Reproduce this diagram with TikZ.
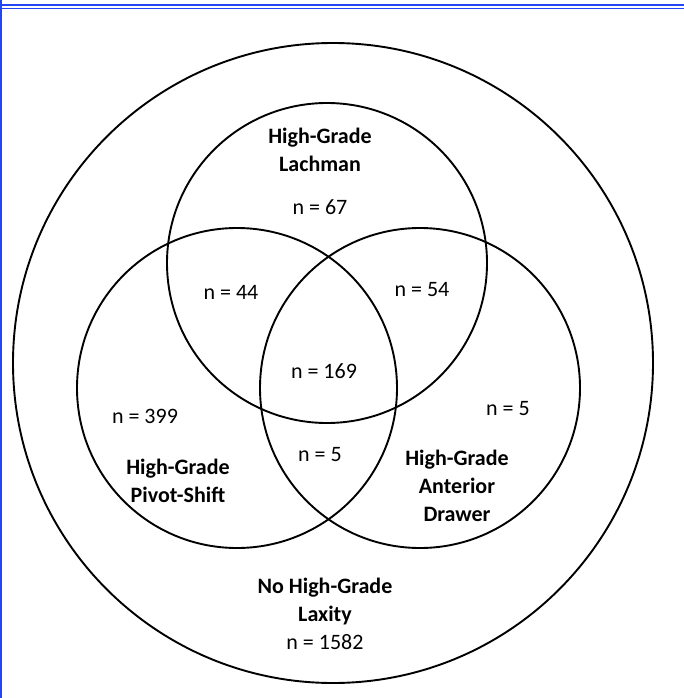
\documentclass[tikz,border=0pt]{standalone}
\usepackage{fontspec}
\setmainfont{Carlito}
\usepackage{tikz}
\definecolor{frameblue}{RGB}{35,70,245}

\begin{document}
\begin{tikzpicture}[
    x=1pt, y=-1pt,
    every node/.style={align=center, inner sep=0pt, font=\fontsize{22}{28}\selectfont},
    venn/.style={circle, draw, line width=1.9pt, minimum size=320pt},
    group/.style={font=\fontsize{22}{28}\selectfont\bfseries}
]
\useasboundingbox (0,0) rectangle (684,698);
% frame lines of the figure
\draw[frameblue, line width=1.8pt] (0,5) -- (684,5);
\draw[frameblue, line width=1.8pt] (0,8.5) -- (684,8.5);
\draw[frameblue, line width=2pt] (1,0) -- (1,698);
% circles
\node (outer_circle) [venn, minimum size=640pt] at (333,363) {};
\node (lachman_circle) [venn] at (327,263) {};
\node (pivot_circle) [venn] at (237,388) {};
\node (drawer_circle) [venn] at (420,388) {};
% group names
\node (lachman_label) [group] at (320,150) {High-Grade\\Lachman};
\node (pivot_label) [group] at (178,481) {High-Grade\\Pivot-Shift};
\node (drawer_label) [group] at (457,486) {High-Grade\\Anterior\\Drawer};
\node (none_label) at (325,614) {\textbf{No High-Grade}\\\textbf{Laxity}\\n = 1582};
% counts
\node (n_lachman) at (320,207) {n = 67};
\node (n_lachman_pivot) at (231,292) {n = 44};
\node (n_lachman_drawer) at (422,290) {n = 54};
\node (n_all) at (324,371) {n = 169};
\node (n_pivot) at (145,416) {n = 399};
\node (n_drawer) at (508,409) {n = 5};
\node (n_pivot_drawer) at (320,455) {n = 5};
\end{tikzpicture}
\end{document}
